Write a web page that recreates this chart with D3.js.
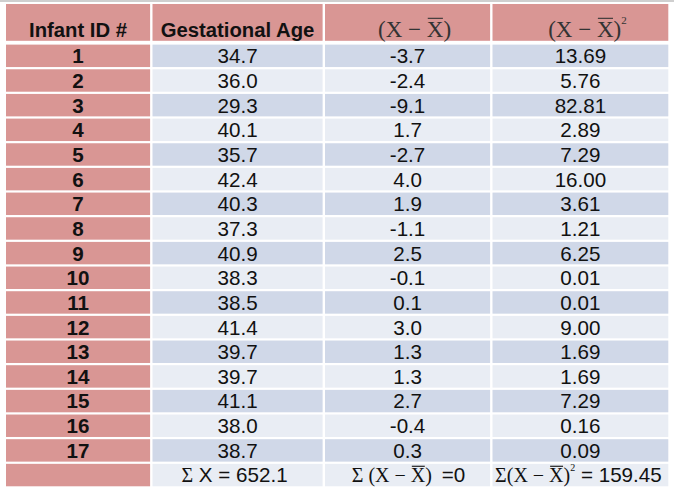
<!DOCTYPE html>
<html>
<head>
<meta charset="utf-8">
<script src="https://cdn.jsdelivr.net/npm/d3@7"></script>
<style>
  html, body { margin: 0; padding: 0; background: #ffffff; }
  svg { display: block; }
</style>
</head>
<body>
<svg id="chart" width="674" height="491"></svg>
<script>
// ---- data ----
const headerLabels = ["Infant ID #", "Gestational Age"];
const infantIds = [1, 2, 3, 4, 5, 6, 7, 8, 9, 10, 11, 12, 13, 14, 15, 16, 17];
const gestationalAge = [34.7, 36.0, 29.3, 40.1, 35.7, 42.4, 40.3, 37.3, 40.9, 38.3, 38.5, 41.4, 39.7, 39.7, 41.1, 38.0, 38.7];
const deviation = [-3.7, -2.4, -9.1, 1.7, -2.7, 4.0, 1.9, -1.1, 2.5, -0.1, 0.1, 3.0, 1.3, 1.3, 2.7, -0.4, 0.3];
const squaredDeviation = [13.69, 5.76, 82.81, 2.89, 7.29, 16.00, 3.61, 1.21, 6.25, 0.01, 0.01, 9.00, 1.69, 1.69, 7.29, 0.16, 0.09];
const sumAge = "652.1";
const sumDeviation = "0";
const sumSquared = "159.45";

// ---- layout ----
const SANS = "'Liberation Sans', Arial, Helvetica, sans-serif";
const SERIF = "'Liberation Serif', 'Times New Roman', Times, serif";
const PINK = "#d99694", BAND1 = "#d0d8e8", BAND2 = "#e9edf4";

const svg = d3.select("#chart");

// top rule
svg.append("rect").attr("x", 0).attr("y", 0).attr("width", 674).attr("height", 2).attr("fill", "#cfcfcf");

const colEdges = [6, 152.5, 325, 492.5, 668.3];
const colX = i => colEdges[i];
const colW = i => (i < 3 ? colEdges[i + 1] - 2.4 : colEdges[i + 1]) - colEdges[i];
const colC = i => colX(i) + colW(i) / 2;

const nRows = infantIds.length + 1; // + sum row
const y = d3.scaleBand().domain(d3.range(nRows)).range([43.5, 487.4]).paddingInner(0.09).paddingOuter(0.045);

const headerTop = 4, headerBottom = 40.8, headerBase = 37;

// header cells
svg.append("g").selectAll("rect").data(d3.range(4)).join("rect")
  .attr("x", i => colX(i)).attr("y", headerTop)
  .attr("width", i => colW(i)).attr("height", headerBottom - headerTop)
  .attr("fill", PINK);

svg.append("g").selectAll("text").data(headerLabels).join("text")
  .attr("x", (d, i) => colC(i)).attr("y", headerBase)
  .attr("text-anchor", "middle")
  .attr("font-family", SANS).attr("font-weight", "bold").attr("font-size", 20.3)
  .attr("fill", "#111").text(d => d);

// math helper: parts = [{t, font, size, dy, bar}]
function mathText(cx, base, parts, fill, barGap) {
  const t = svg.append("text").attr("x", cx).attr("y", base).attr("text-anchor", "middle").attr("fill", fill || "#333");
  const bars = [];
  let idx = 0;
  parts.forEach(p => {
    const ts = t.append("tspan").attr("font-family", p.font).attr("font-size", p.size).text(p.t);
    if (p.dy) ts.attr("dy", p.dy);
    if (p.bar !== undefined) bars.push({ i: idx + p.bar, size: p.size });
    idx += p.t.length;
  });
  const node = t.node();
  bars.forEach(b => {
    const s = node.getStartPositionOfChar(b.i).x;
    const e = node.getEndPositionOfChar(b.i).x;
    const yy = base - b.size * 0.66 - (barGap || 4);
    svg.append("line").attr("x1", s + 1).attr("x2", e - 0.5).attr("y1", yy).attr("y2", yy)
      .attr("stroke", fill || "#333").attr("stroke-width", 1.1);
  });
  return t;
}

mathText(colC(2) + 7, headerBase, [{ t: "(X \u2212 X)", font: SERIF, size: 23, bar: 5 }], "#333", 3.5);
mathText(colC(3) + 7, headerBase, [
  { t: "(X \u2212 X)", font: SERIF, size: 23, bar: 5 },
  { t: "2", font: SERIF, size: 11, dy: -13 }
], "#333", 3.5);

// body rows
const rowsG = svg.append("g");
const rowIdx = d3.range(nRows);
const bandFill = i => (i === nRows - 1 ? BAND2 : (i % 2 === 0 ? BAND1 : BAND2));

rowsG.selectAll("rect.id").data(rowIdx).join("rect").attr("class", "id")
  .attr("x", colX(0)).attr("y", i => y(i)).attr("width", colW(0)).attr("height", y.bandwidth())
  .attr("fill", PINK);
[1, 2, 3].forEach(c => {
  rowsG.selectAll("rect.c" + c).data(rowIdx).join("rect").attr("class", "c" + c)
    .attr("x", colX(c)).attr("y", i => y(i)).attr("width", colW(c)).attr("height", y.bandwidth())
    .attr("fill", bandFill);
});

const base = i => y(i) + y.bandwidth() / 2 + 7.4;
const cols = [
  { data: infantIds, fmt: d => String(d), bold: true },
  { data: gestationalAge, fmt: d => d.toFixed(1) },
  { data: deviation, fmt: d => d.toFixed(1) },
  { data: squaredDeviation, fmt: d => d.toFixed(2) }
];
cols.forEach((c, ci) => {
  rowsG.append("g").selectAll("text").data(c.data).join("text")
    .attr("x", colC(ci)).attr("y", (d, i) => base(i))
    .attr("text-anchor", "middle")
    .attr("font-family", SANS).attr("font-size", 20.6)
    .attr("font-weight", c.bold ? "bold" : "normal")
    .attr("fill", "#111").text(c.fmt);
});

// sum row
const sr = nRows - 1;
mathText(colC(1) - 3, base(sr), [
  { t: "\u03A3", font: SERIF, size: 20 },
  { t: " X = " + sumAge, font: SANS, size: 20.6 }
], "#111");
mathText(colC(2) + 1, base(sr), [
  { t: "\u03A3 (X \u2212 X)", font: SERIF, size: 20, bar: 7 },
  { t: "  \u2009=" + sumDeviation, font: SANS, size: 20.6 }
], "#111", 3);
mathText(colC(3) - 2, base(sr), [
  { t: "\u03A3(X \u2212 X)", font: SERIF, size: 20, bar: 6 },
  { t: "2", font: SERIF, size: 10, dy: -11 },
  { t: " = " + sumSquared, font: SANS, size: 20.6, dy: 11 }
], "#111", 3);
</script>
</body>
</html>
